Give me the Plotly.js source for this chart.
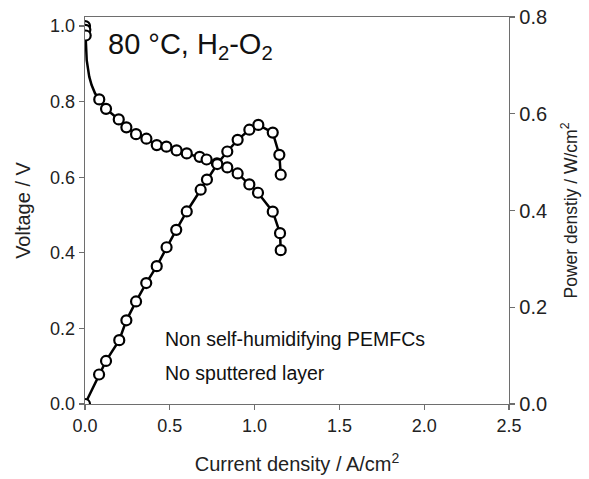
<!DOCTYPE html>
<html>
<head>
<meta charset="utf-8">
<script src="https://cdn.plot.ly/plotly-3.0.1.min.js"></script>
<style>html,body{margin:0;padding:0;background:#fff;}#chart{width:589px;height:479px;}</style>
</head>
<body>
<div id="chart"></div>
<script>
// Measured voltage points (current density A/cm2, voltage V)
const voltI = [0, 0.002, 0.004, 0.084, 0.124, 0.199, 0.244, 0.301, 0.362, 0.423, 0.480, 0.540, 0.600, 0.676, 0.717, 0.778, 0.839, 0.900, 0.969, 1.020, 1.107, 1.150, 1.154];
const voltV = [1.000, 0.990, 0.975, 0.806, 0.781, 0.753, 0.732, 0.714, 0.702, 0.685, 0.681, 0.671, 0.663, 0.654, 0.647, 0.637, 0.626, 0.610, 0.581, 0.559, 0.509, 0.452, 0.407];
// Unmarked points along the drawn voltage line at the activation knee
const kneeI = [0.006, 0.010, 0.025, 0.039, 0.059];
const kneeV = [0.950, 0.910, 0.866, 0.844, 0.822];
// Measured power density points (A/cm2, W/cm2)
const powI = [0, 0.083, 0.124, 0.202, 0.244, 0.301, 0.361, 0.423, 0.481, 0.538, 0.600, 0.682, 0.719, 0.780, 0.839, 0.900, 0.969, 1.022, 1.107, 1.146, 1.154];
const powP = [0, 0.061, 0.089, 0.132, 0.173, 0.212, 0.250, 0.285, 0.324, 0.360, 0.398, 0.443, 0.464, 0.496, 0.522, 0.546, 0.567, 0.577, 0.561, 0.515, 0.474];
const xTicks = [0, 0.5, 1.0, 1.5, 2.0, 2.5];
const yTicks = [0, 0.2, 0.4, 0.6, 0.8, 1.0];
const y2Ticks = [0, 0.2, 0.4, 0.6, 0.8];

// merge knee points into the voltage line path
const linePts = voltI.map((x, i) => [x, voltV[i]]).concat(kneeI.map((x, i) => [x, kneeV[i]]));
linePts.sort((a, b) => a[0] - b[0] || b[1] - a[1]);
const lineI = linePts.map(p => p[0]);
const lineV = linePts.map(p => p[1]);

const FONT = 'Liberation Sans, Arial, Helvetica, sans-serif';
const marker = {symbol: 'circle', size: 10, color: '#ffffff', line: {color: '#000000', width: 2.2}};

const traces = [
  {x: lineI, y: lineV, type: 'scatter', mode: 'lines', line: {color: '#000', width: 2.5}, xaxis: 'x', yaxis: 'y', hoverinfo: 'skip'},
  {x: powI, y: powP, type: 'scatter', mode: 'lines+markers', line: {color: '#000', width: 2.5}, marker: marker, xaxis: 'x', yaxis: 'y2'},
  {x: voltI, y: voltV, type: 'scatter', mode: 'markers', marker: marker, xaxis: 'x', yaxis: 'y'}
];

const axisCommon = {
  showgrid: false, zeroline: false, showline: true, linecolor: '#6e6e6e', linewidth: 1.3,
  ticks: 'outside', ticklen: 5, tickwidth: 1.3, tickcolor: '#6e6e6e',
  tickfont: {family: FONT, size: 18, color: '#222'}
};

const layout = {
  width: 589, height: 479,
  margin: {l: 85, r: 80, t: 17, b: 75},
  paper_bgcolor: '#fff', plot_bgcolor: '#fff',
  showlegend: false,
  font: {family: FONT, color: '#222'},
  xaxis: Object.assign({}, axisCommon, {
    range: [0, 2.5], tickvals: xTicks, ticktext: xTicks.map(v => v.toFixed(1)),
    mirror: true,
    title: {text: 'Current density / A/cm<sup>2</sup>', font: {family: FONT, size: 20, color: '#222'}, standoff: 22}
  }),
  yaxis: Object.assign({}, axisCommon, {
    range: [0, 1.024], tickvals: yTicks, ticktext: yTicks.map(v => v.toFixed(1)),
    title: {text: 'Voltage / V', font: {family: FONT, size: 20, color: '#222'}, standoff: 14}
  }),
  yaxis2: Object.assign({}, axisCommon, {
    range: [0, 0.8], tickvals: y2Ticks, ticktext: y2Ticks.map(v => v.toFixed(1)),
    overlaying: 'y', side: 'right', anchor: 'x',
    tickfont: {family: FONT, size: 20, color: '#222'},
    title: {text: 'Power denstiy / W/cm<sup>2</sup>', font: {family: FONT, size: 17.5, color: '#222'}, standoff: 18}
  }),
  annotations: [
    {text: '80 °C, H<sub>2</sub>-O<sub>2</sub>', xref: 'paper', yref: 'paper', x: 0.05, y: 0.925, xanchor: 'left', yanchor: 'middle', showarrow: false, font: {family: FONT, size: 29, color: '#111'}},
    {text: 'Non self-humidifying PEMFCs', xref: 'paper', yref: 'paper', x: 0.183, y: 0.168, xanchor: 'left', yanchor: 'middle', showarrow: false, font: {family: FONT, size: 19.5, color: '#111'}},
    {text: 'No sputtered layer', xref: 'paper', yref: 'paper', x: 0.183, y: 0.080, xanchor: 'left', yanchor: 'middle', showarrow: false, font: {family: FONT, size: 19.5, color: '#111'}}
  ]
};

Plotly.newPlot('chart', traces, layout, {staticPlot: true, displayModeBar: false});
</script>
</body>
</html>
